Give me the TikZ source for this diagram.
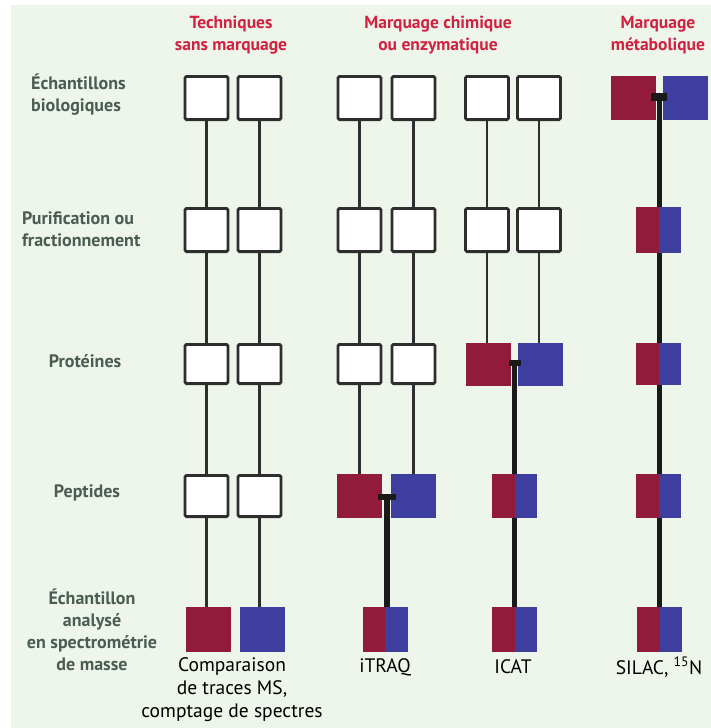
\documentclass[tikz,border=0pt]{standalone}
\usepackage{fontspec}
\setmainfont{PT Sans}
\definecolor{bgc}{HTML}{EEF5EA}
\definecolor{redc}{HTML}{921A3B}
\definecolor{bluec}{HTML}{3E3E9F}
\definecolor{headc}{HTML}{D2203F}
\definecolor{labc}{HTML}{4B5C54}
\definecolor{linec}{HTML}{2E2E2E}
\definecolor{thickc}{HTML}{1A1A1A}
\pgfdeclarelayer{back}
\pgfdeclarelayer{lines}
\pgfsetlayers{back,lines,main}
\begin{document}
\begin{tikzpicture}[x=1pt,y=-1pt,
  wbox/.style={draw=linec, line width=2.8pt, fill=white, rounded corners=1.5pt,
    minimum width=43pt, minimum height=#1, inner sep=0pt, outer sep=0pt},
  rbox/.style={fill=redc, minimum width=45pt, minimum height=#1, inner sep=0pt, outer sep=0pt},
  bbox/.style={fill=bluec, minimum width=45pt, minimum height=#1, inner sep=0pt, outer sep=0pt},
  mbox/.style={fill=bluec, minimum width=45pt, minimum height=#1, inner sep=0pt, outer sep=0pt,
    path picture={\fill[redc] (path picture bounding box.south west) rectangle (path picture bounding box.north);}},
  thin/.style={draw=linec, line width=2.9pt},
  thickl/.style={draw=thickc, line width=5pt},
  tbar/.style={fill=thickc},
  head/.style={text=headc, font=\fontsize{17.5}{22}\selectfont\bfseries, align=center, inner sep=0pt},
  lab/.style={text=labc, font=\fontsize{18}{22}\selectfont\bfseries, inner sep=0pt},
  bot/.style={text=black, font=\fontsize{19.5}{23}\selectfont, align=center, inner sep=0pt}
]
\begin{pgfonlayer}{back}
\fill[white] (0,0) rectangle (711,728);
\fill[bgc] (11,5) rectangle (711,728);
\end{pgfonlayer}
\useasboundingbox (0,0) rectangle (711,728);

% column 1 : sans marquage
\node[wbox=43.2pt] (a1) at (206.5,98) {};
\node[wbox=43.2pt] (a2) at (206.5,230) {};
\node[wbox=39.2pt] (a3) at (206.5,364) {};
\node[wbox=41.2pt] (a4) at (206.5,496) {};
\node[rbox=45pt] (a5) at (208.5,629.5) {};
\node[wbox=43.2pt] (b1) at (259.5,98) {};
\node[wbox=43.2pt] (b2) at (259.5,230) {};
\node[wbox=39.2pt] (b3) at (259.5,364) {};
\node[wbox=41.2pt] (b4) at (259.5,496) {};
\node[bbox=45pt] (b5) at (262,629.5) {};

% column 2 : iTRAQ
\node[wbox=43.2pt] (c1) at (359.5,98) {};
\node[wbox=43.2pt] (c2) at (359.5,230) {};
\node[wbox=39.2pt] (c3) at (359.5,364) {};
\node[rbox=44pt] (c4) at (359,496) {};
\node[wbox=43.2pt] (d1) at (413.5,98) {};
\node[wbox=43.2pt] (d2) at (413.5,230) {};
\node[wbox=39.2pt] (d3) at (413.5,364) {};
\node[bbox=44pt] (d4) at (413,496) {};
\node[mbox=45pt] (i5) at (385,629.5) {};

% column 3 : ICAT
\node[wbox=43.2pt] (e1) at (487,98) {};
\node[wbox=43.2pt] (e2) at (487,230) {};
\node[rbox=43pt] (e3) at (488.5,364.5) {};
\node[wbox=43.2pt] (f1) at (539,98) {};
\node[wbox=43.2pt] (f2) at (539,230) {};
\node[bbox=43pt] (f3) at (540.5,364.5) {};
\node[mbox=44pt] (k4) at (514.5,496) {};
\node[mbox=45pt] (k5) at (514.5,629.5) {};

% column 4 : SILAC
\node[rbox=44pt] (g1) at (633.5,97.5) {};
\node[bbox=44pt] (h1) at (685,97.5) {};
\node[mbox=46pt] (s2) at (658.5,230) {};
\node[mbox=42pt] (s3) at (658.5,364) {};
\node[mbox=44pt] (s4) at (658.5,496) {};
\node[mbox=45pt] (s5) at (659.5,629.5) {};

% T-bar anchor points
\coordinate (it) at (387,497);
\coordinate (kt) at (514.5,363);
\coordinate (st) at (659,97);

\begin{pgfonlayer}{lines}
\foreach \u/\v in {a1/a2,a2/a3,a3/a4,a4/a5,b1/b2,b2/b3,b3/b4,b4/b5,
                   c1/c2,c2/c3,c3/c4,d1/d2,d2/d3,d3/d4,e1/e2,e2/e3,f1/f2,f2/f3}
  \draw[thin] (\u.south) -- (\u.south |- \v.north);
\draw[thickl, line width=6.5pt] (it) -- (it |- i5.north);
\draw[thickl] (kt) -- (kt |- k5.north);
\draw[thickl] (st) -- (st |- s5.north);
\end{pgfonlayer}

\fill[tbar] (it) ++(-9,-3) rectangle ++(18,6);
\fill[tbar] (kt) ++(-6,-3) rectangle ++(12,6);
\fill[tbar] (st) ++(-8,-4) rectangle ++(16,8);

% headers
\node[head] (h1) at (231,35.5) {Techniques\\sans marquage};
\node[head] (h2) at (438,35.5) {Marquage chimique\\ou enzymatique};
\node[head] (h3) at (658,35.5) {Marquage\\métabolique};

% row labels
\node[lab, align=left, anchor=west] (l1) at (31,95) {Échantillons\\biologiques};
\node[lab, align=left, anchor=west] (l2) at (22,229) {Purification ou\\fractionnement};
\node[lab] (l3) at (85,361) {Protéines};
\node[lab] (l4) at (87,493) {Peptides};
\node[lab, align=center] (l5) at (92,630) {Échantillon\\analysé\\en spectrométrie\\de masse};

% bottom labels
\node[bot] (t1) at (232,690) {Comparaison\\de traces MS,\\comptage de spectres};
\node[bot] (t2) at (385,667) {iTRAQ};
\node[bot] (t3) at (513,667) {ICAT};
\node[bot] (t4) at (659,667) {SILAC, \textsuperscript{15}N};
\end{tikzpicture}
\end{document}
